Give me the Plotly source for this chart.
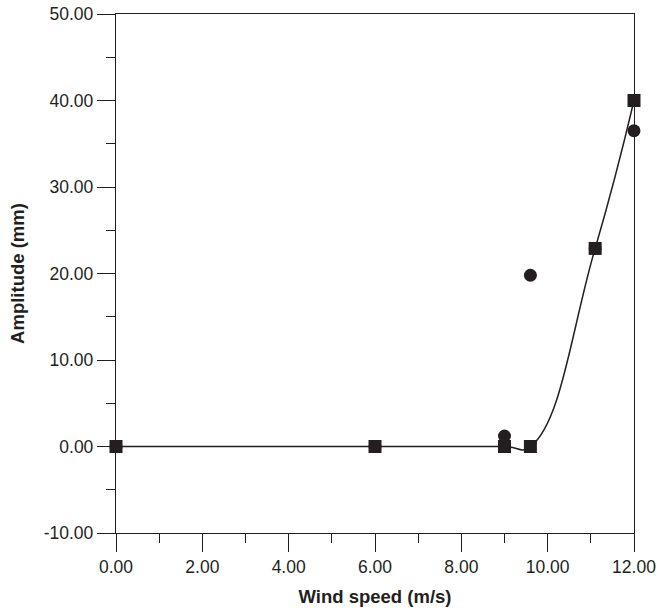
import plotly.graph_objects as go

# Data
sq_x = [0.0, 6.0, 9.0, 9.6, 11.1, 12.0]
sq_y = [0.0, 0.0, 0.0, 0.0, 22.9, 40.0]
ci_x = [0.0, 6.0, 9.0, 9.6, 11.1, 12.0]
ci_y = [0.0, 0.0, 1.2, 19.8, 22.9, 36.5]

x_ticks = [0, 2, 4, 6, 8, 10, 12]
x_ticktext = ["0.00", "2.00", "4.00", "6.00", "8.00", "10.00", "12.00"]
y_ticks = [-10, 0, 10, 20, 30, 40, 50]
y_ticktext = ["-10.00", "0.00", "10.00", "20.00", "30.00", "40.00", "50.00"]

ink = "#231f20"
font = "Liberation Sans, Arial, sans-serif"

fig = go.Figure()
fig.add_trace(go.Scatter(
    x=sq_x, y=sq_y, mode="lines",
    line=dict(shape="spline", smoothing=1.3, color=ink, width=1.5),
    hoverinfo="skip", showlegend=False, cliponaxis=False))
fig.add_trace(go.Scatter(
    x=ci_x, y=ci_y, mode="markers",
    marker=dict(symbol="circle", size=13, color=ink),
    showlegend=False, cliponaxis=False))
fig.add_trace(go.Scatter(
    x=sq_x, y=sq_y, mode="markers",
    marker=dict(symbol="square", size=13, color=ink),
    showlegend=False, cliponaxis=False))

axis_common = dict(
    showgrid=False, zeroline=False, showline=True, linecolor=ink, linewidth=1.3,
    mirror=True, ticks="outside", ticklen=18, tickwidth=1.3, tickcolor=ink,
    tickfont=dict(family=font, size=17.5, color=ink), tickmode="array",
    automargin=False,
)
fig.update_layout(
    width=658, height=611,
    margin=dict(l=116, r=24, t=14, b=78),
    paper_bgcolor="white", plot_bgcolor="white",
    xaxis=dict(range=[0, 12], tickvals=x_ticks, ticktext=x_ticktext,
               minor=dict(tickmode="linear", tick0=0, dtick=1, ticks="outside",
                          ticklen=9, tickwidth=1.3, tickcolor=ink),
               title=dict(text="<b>Wind speed (m/s)</b>", standoff=13,
                          font=dict(family=font, size=18.5, color=ink)),
               **axis_common),
    yaxis=dict(range=[-10, 50], tickvals=y_ticks, ticktext=y_ticktext,
               minor=dict(tickmode="linear", tick0=0, dtick=5, ticks="outside",
                          ticklen=9, tickwidth=1.3, tickcolor=ink),
               title=dict(text="<b>Amplitude (mm)</b>", standoff=14,
                          font=dict(family=font, size=18.5, color=ink)),
               **axis_common),
)
fig.write_html("out.html")
